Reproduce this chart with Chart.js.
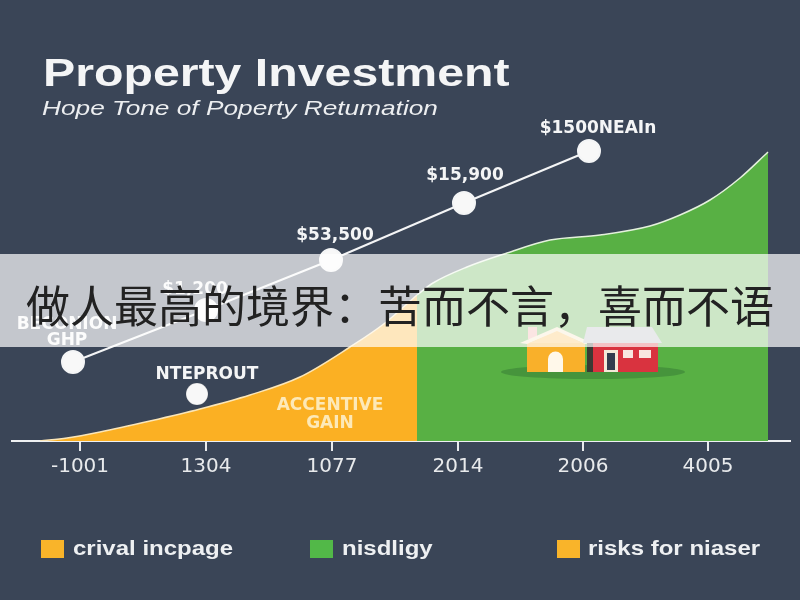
<!DOCTYPE html>
<html>
<head>
<meta charset="utf-8">
<title>Property Investment</title>
<script src="https://cdn.jsdelivr.net/npm/chart.js@4"></script>
<style>
    html, body { margin: 0; padding: 0; }
    body { width: 800px; height: 600px; overflow: hidden; position: relative; background: #3a4557; font-family: "Liberation Sans", sans-serif; }
    canvas { position: absolute; left: 0; top: 0; }
    .title { position: absolute; left: 43px; top: 52px; color: #f4f5f6; font-size: 38px; font-weight: bold; white-space: nowrap; transform: scaleX(1.27); transform-origin: left; }
    .subtitle { position: absolute; left: 42px; top: 96px; color: #eceef0; font-size: 21px; font-style: italic; white-space: nowrap; transform: scaleX(1.25); transform-origin: left; }
    .house { position: absolute; left: 495px; top: 315px; }
    .banner { position: absolute; left: 0; top: 254px; width: 800px; height: 93px; background: rgba(255, 255, 255, 0.7); color: #222; font-family: "Noto Sans CJK SC", sans-serif; font-size: 44px; line-height: 101px; text-align: center; white-space: nowrap; }
    .legend-swatch { position: absolute; top: 540px; width: 23px; height: 18px; }
    .legend-text { position: absolute; top: 537px; color: #eef0f2; font-size: 20px; font-weight: bold; white-space: nowrap; transform: scaleX(1.2); transform-origin: left; }
</style>
</head>
<body>
<canvas id="chart" width="800" height="600"></canvas>

<!-- little house on the green area -->
<svg class="house" width="200" height="70" viewBox="0 0 200 70">
    <ellipse cx="98" cy="57" rx="92" ry="7" fill="#46943c"/>
    <rect x="33" y="12" width="9" height="12" fill="#f2a9a0"/>
    <rect x="32" y="27" width="58" height="30" fill="#f9b02a"/>
    <polygon points="25,28 62,12 97,28 90,29 62,17 32,29" fill="#f6e3c0"/>
    <polygon points="34,28 62,16 88,28" fill="#fbbd52"/>
    <path d="M53 57 V44 a7.5 7.5 0 0 1 15 0 V57 Z" fill="#fff8ea"/>
    <rect x="92" y="27" width="6" height="30" fill="#3a3a34"/>
    <rect x="98" y="28" width="65" height="29" fill="#d9333f"/>
    <polygon points="92,12 157,12 167,28 88,28" fill="#b5b9bf"/>
    <rect x="109" y="35" width="14" height="22" fill="#f4ead8"/>
    <rect x="112" y="38" width="8" height="17" fill="#333d4e"/>
    <rect x="128" y="35" width="10" height="8" fill="#f8e6df"/>
    <rect x="144" y="35" width="12" height="8" fill="#f8e6df"/>
</svg>

<div class="title">Property Investment</div>
<div class="subtitle">Hope Tone of Poperty Retumation</div>
<div class="banner">做人最高的境界：苦而不言，喜而不语</div>

<div class="legend-swatch" style="left:41px;background:#f9b42a"></div>
<div class="legend-text" style="left:73px" id="legend0"></div>
<div class="legend-swatch" style="left:310px;background:#52b848"></div>
<div class="legend-text" style="left:342px" id="legend1"></div>
<div class="legend-swatch" style="left:557px;background:#f9b42a"></div>
<div class="legend-text" style="left:588px" id="legend2"></div>

<script>
// values, x and y are in the chart's own units
const tickPositions = [80, 206, 332, 458, 583, 708];
const tickLabels = ["-1001", "1304", "1077", "2014", "2006", "4005"];
const legendLabels = ["crival incpage", "nisdligy", "risks for niaser"];

const orangeX = [40, 67, 100, 150, 200, 250, 300, 350, 385, 417];
const orangeY = [0, 3, 9, 20, 32, 46, 64, 94, 118, 146];

const greenX = [417, 433, 467, 507, 550, 600, 650, 680, 710, 740, 768];
const greenY = [146, 158, 174, 188, 201, 206, 215, 226, 241, 263, 289];

const lineX = [73, 206, 331, 464, 589];
const lineY = [79, 131, 181, 238, 290];
const lineLabels = [["BECONION", "GHP"], ["$1,200"], ["$53,500"], ["$15,900"], ["$1500NEAIn"]];

const dotX = [197];
const dotY = [47];
const dotLabels = [["NTEPROUT"]];

const noteX = [330];
const noteY = [17];
const noteLabels = [["ACCENTIVE", "GAIN"]];

legendLabels.forEach((txt, i) => {
    document.getElementById('legend' + i).innerText = txt;
});

const toPoints = (xs, ys) => xs.map((x, i) => ({ x: x, y: ys[i] }));

// white text above the points
const pointText = {
    id: 'pointText',
    afterDatasetsDraw(chart) {
        const ctx = chart.ctx;
        const sx = chart.scales.x;
        const sy = chart.scales.y;
        const put = (xs, ys, labels, dxs, dy, gap, color) => {
            ctx.save();
            ctx.font = 'bold 17px "DejaVu Sans", sans-serif';
            ctx.fillStyle = color;
            ctx.textAlign = 'center';
            ctx.textBaseline = 'middle';
            labels.forEach((lines, i) => {
                lines.forEach((line, j) => {
                    const y = sy.getPixelForValue(ys[i]) + dy[i] - (lines.length - 1 - j) * gap;
                    ctx.fillText(line, sx.getPixelForValue(xs[i]) + dxs[i], y);
                });
            });
            ctx.restore();
        };
        put(lineX, lineY, lineLabels, [-6, -11, 4, 1, 9], [-21, -20, -24, -27, -22], 16, '#f4f5f6');
        put(dotX, dotY, dotLabels, [10], [-19], 16, '#f4f5f6');
        put(noteX, noteY, noteLabels, [0], [0], 18, '#fde9b8');
    }
};

new Chart(document.getElementById('chart'), {
    type: 'scatter',
    data: {
        datasets: [
            {
                label: 'green',
                data: toPoints(greenX, greenY),
                showLine: true,
                fill: 'origin',
                borderColor: '#e4f1dc',
                borderWidth: 1.5,
                backgroundColor: '#58b044',
                cubicInterpolationMode: 'monotone',
                pointRadius: 0
            },
            {
                label: 'orange',
                data: toPoints(orangeX, orangeY),
                showLine: true,
                fill: 'origin',
                borderColor: '#fbe6b8',
                borderWidth: 1.5,
                backgroundColor: '#fbb023',
                cubicInterpolationMode: 'monotone',
                pointRadius: 0
            },
            {
                label: 'line',
                data: toPoints(lineX, lineY),
                showLine: true,
                borderColor: '#f4f5f6',
                borderWidth: 2,
                backgroundColor: '#f8f8f8',
                pointRadius: 11,
                pointHoverRadius: 11
            },
            {
                label: 'dot',
                data: toPoints(dotX, dotY),
                backgroundColor: '#f8f8f8',
                pointRadius: 11,
                pointHoverRadius: 11
            }
        ]
    },
    options: {
        responsive: false,
        animation: false,
        // autoPadding would pull the area in by the dot radius
        layout: { autoPadding: false, padding: { left: 12, right: 10, top: 100 } },
        plugins: { legend: { display: false }, tooltip: { enabled: false } },
        scales: {
            x: {
                type: 'linear',
                min: 12,
                max: 790,
                // fixed height so the baseline sits where the picture has it, label padding dropped so the ends do too
                afterFit: scale => {
                    scale.height = 159;
                    scale.paddingLeft = 0;
                    scale.paddingRight = 0;
                },
                afterBuildTicks: scale => { scale.ticks = tickPositions.map(v => ({ value: v })); },
                grid: { drawOnChartArea: false, color: '#e8eaec', lineWidth: 2, tickLength: 10 },
                border: { color: '#eef0f2', width: 2 },
                ticks: {
                    color: '#e8eaec',
                    font: { family: '"DejaVu Sans", sans-serif', size: 20 },
                    padding: 4,
                    maxRotation: 0,
                    autoSkip: false,
                    callback: (value) => tickLabels[tickPositions.indexOf(value)]
                }
            },
            y: { display: false, min: 0, max: 341 }
        }
    },
    plugins: [pointText]
});
</script>
</body>
</html>
